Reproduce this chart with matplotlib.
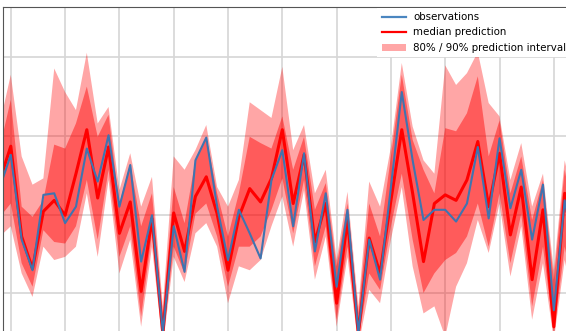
#forecast plot: observations vs median prediction with 80% / 90% prediction intervals
import numpy as np
import matplotlib.pyplot as plt
from matplotlib.patches import Patch
from matplotlib.lines import Line2D

#time steps (first one sits just off the left edge)
steps = list(range(-1, 53))

#observed values
observations = [1.35, 1.76, 0.68, 0.29, 1.25, 1.27, 0.89, 1.10, 1.84, 1.42,
                2.01, 1.10, 1.63, 0.40, 0.99, -0.50, 0.85, 0.27, 1.69, 1.98,
                1.10, 0.42, 1.06, 0.76, 0.44, 1.44, 1.82, 0.85, 1.78, 0.53,
                1.27, 0.08, 1.06, -0.50, 0.68, 0.17, 1.35, 2.56, 1.69, 0.93,
                1.06, 1.06, 0.91, 1.14, 1.86, 0.95, 1.97, 1.08, 1.57, 0.68,
                1.38, -0.22, 1.18, 0.42]

#median of the forecast
median = [1.44, 1.87, 0.72, 0.31, 1.04, 1.18, 0.99, 1.52, 2.08, 1.21,
          1.86, 0.76, 1.16, 0.02, 0.95, -0.52, 1.02, 0.53, 1.23, 1.48,
          1.01, 0.29, 0.97, 1.33, 1.16, 1.46, 2.08, 1.14, 1.76, 0.65,
          1.14, -0.13, 0.93, -0.52, 0.70, 0.25, 1.18, 2.08, 1.27, 0.40,
          1.14, 1.25, 1.18, 1.44, 1.93, 1.10, 1.78, 0.74, 1.35, 0.17,
          1.06, -0.43, 1.27, 0.21]

#80% interval
upper_80 = [1.86, 2.46, 1.10, 0.97, 1.18, 1.89, 1.84, 2.16, 2.63, 1.99,
            2.27, 1.14, 1.65, 0.85, 1.27, -0.26, 1.35, 0.89, 1.69, 1.99,
            1.27, 0.72, 1.27, 1.99, 1.91, 1.84, 2.25, 1.57, 1.99, 1.06,
            1.40, 0.34, 1.14, -0.26, 1.14, 0.72, 1.74, 2.78, 1.95, 1.57,
            1.27, 2.10, 2.06, 2.29, 2.76, 1.74, 2.20, 1.27, 1.74, 0.93,
            1.44, 0.17, 1.57, 0.85]
lower_80 = [0.97, 1.14, 0.38, 0.08, 0.80, 0.65, 0.63, 0.85, 1.44, 0.68,
            1.57, 0.46, 0.85, -0.30, 0.76, -0.60, 0.59, 0.25, 1.01, 1.14,
            0.72, 0.08, 0.59, 0.59, 0.72, 1.06, 1.46, 0.76, 1.44, 0.34,
            0.85, -0.34, 0.59, -0.60, 0.25, 0.04, 0.85, 1.52, 0.68, 0.00,
            0.25, 0.42, 0.51, 0.72, 1.14, 0.59, 1.27, 0.38, 1.01, -0.17,
            0.59, -0.51, 0.59, -0.09]

#90% interval
upper_90 = [2.16, 2.78, 1.74, 1.38, 1.46, 2.86, 2.56, 2.33, 3.06, 2.16,
            2.37, 1.31, 1.78, 1.10, 1.48, -0.17, 1.74, 1.57, 1.82, 2.14,
            1.35, 1.10, 1.44, 2.43, 2.33, 2.23, 2.88, 1.82, 2.14, 1.27,
            1.57, 0.42, 1.29, -0.17, 1.42, 1.10, 1.86, 2.93, 2.12, 1.69,
            1.52, 2.90, 2.65, 2.80, 3.07, 2.42, 2.25, 1.44, 1.91, 1.10,
            1.52, 0.29, 1.69, 1.06]
lower_90 = [0.72, 0.85, 0.25, -0.05, 0.59, 0.42, 0.46, 0.59, 1.27, 0.46,
            1.44, 0.25, 0.68, -0.43, 0.59, -0.68, 0.46, 0.14, 0.76, 0.89,
            0.59, -0.13, 0.34, 0.29, 0.42, 0.85, 1.23, 0.59, 1.31, 0.17,
            0.72, -0.43, 0.46, -0.68, 0.04, -0.13, 0.68, 1.35, 0.34, -0.26,
            -0.17, -0.56, 0.08, 0.38, 0.93, 0.51, 1.14, 0.21, 0.85, -0.34,
            0.38, -0.60, 0.42, -0.26]

fig = plt.figure(figsize=(5.66, 3.31), dpi=100)
#the reference is a crop, so the axes run off the right and bottom edges
ax = fig.add_axes([3.3 / 566, 0, 1 - 3.3 / 566, 1 - 6.7 / 331])

ax.fill_between(steps, lower_90, upper_90, color="red", alpha=0.35, linewidth=0)
ax.fill_between(steps, lower_80, upper_80, color="red", alpha=0.45, linewidth=0)
ax.plot(steps, median, color="red", linewidth=2.2)
ax.plot(steps, observations, color="#3f74b0", linewidth=1.5)

ax.set_xlim(-0.69, 51.12)
ax.set_ylim(-0.484, 3.647)
ax.set_xticks(np.arange(0, 55, 5))
ax.set_yticks([0, 1, 2, 3])
ax.tick_params(length=0, labelbottom=False, labelleft=False)
ax.grid(True, color="#d6d6d6", linewidth=1.2)
ax.set_axisbelow(True)

ax.spines["right"].set_visible(False)
ax.spines["bottom"].set_visible(False)
ax.spines["top"].set_color("#555555")
ax.spines["left"].set_color("#555555")

handles = [
    Line2D([], [], color="#4a86c0", linewidth=1.6),
    Line2D([], [], color="red", linewidth=1.6),
    Patch(facecolor="red", alpha=0.35, linewidth=0),
]
labels = ["observations", "median prediction", "80% / 90% prediction interval"]
leg = fig.legend(handles, labels, loc="upper left",
                 bbox_to_anchor=(377 / 566, 1 - 7.5 / 331),
                 fontsize=7.4, frameon=True, fancybox=False, framealpha=1,
                 edgecolor="white", borderaxespad=0, handlelength=2.4,
                 handletextpad=0.7, borderpad=0.45, labelspacing=0.52)
leg.get_frame().set_linewidth(0)

fig.savefig("out.png", dpi=100)
